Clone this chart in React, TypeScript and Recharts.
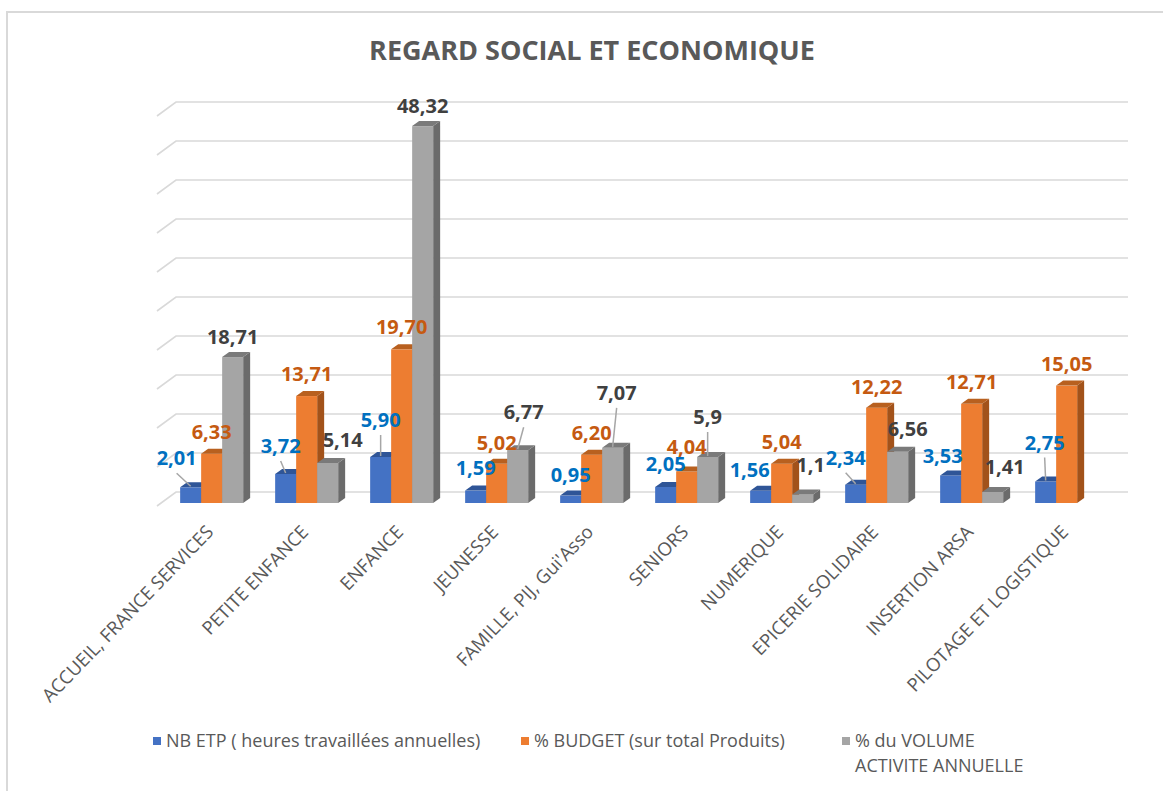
import React from "react";
import { Bar, BarChart, CartesianGrid, LabelList, Legend, XAxis, YAxis } from "recharts";

const categories = [
  "ACCUEIL, FRANCE SERVICES",
  "PETITE ENFANCE",
  "ENFANCE",
  "JEUNESSE",
  "FAMILLE, PIJ, Gui'Asso",
  "SENIORS",
  "NUMERIQUE",
  "EPICERIE SOLIDAIRE",
  "INSERTION ARSA",
  "PILOTAGE ET LOGISTIQUE",
];
const nbEtp = [2.01, 3.72, 5.9, 1.59, 0.95, 2.05, 1.56, 2.34, 3.53, 2.75];
const budget = [6.33, 13.71, 19.7, 5.02, 6.2, 4.04, 5.04, 12.22, 12.71, 15.05];
const volume = [18.71, 5.14, 48.32, 6.77, 7.07, 5.9, 1.1, 6.56, 1.41, null];
const yTicks = [0, 5, 10, 15, 20, 25, 30, 35, 40, 45, 50];
const seriesOrder = ["etp", "budget", "volume"];

const data = categories.map((category, i) => ({
  category,
  etp: nbEtp[i],
  budget: budget[i],
  volume: volume[i],
}));

// label nudges: [dx, dy, leader line] relative to top centre of the bar
const labelNudge: Record<string, number[][]> = {
  etp: [[-14, -29, 1], [-5, -28, 1], [0, -37, 1], [0, -23, 0], [0, -21, 0], [0, -23, 0], [-11, -21, 0], [-10, -27, 1], [-8, -19, 0], [-1, -39, 1]],
  budget: [[0, -22, 0], [0, -22, 0], [0, -22, 0], [0, -21, 0], [0, -22, 0], [0, -24, 0], [0, -22, 0], [0, -21, 0], [0, -22, 0], [0, -22, 0]],
  volume: [[0, -20, 0], [15, -23, 0], [0, -20, 0], [6, -38, 1], [4, -55, 1], [0, -40, 1], [8, -29, 0], [10, -23, 0], [12, -25, 0], [0, -20, 0]],
};

const DX = 7;
const DY = 5;
const FONT = "'Open Sans', 'DejaVu Sans', sans-serif";

const pts = (p: number[][]) => p.map((q) => q.join(",")).join(" ");

const bar3d = (front: string, top: string, side: string) => (props: any) => {
  const { x, y, width, height } = props;
  if (!height || height <= 0) return <g />;
  return (
    <g>
      <polygon
        points={pts([[x + width, y], [x + width + DX, y - DY], [x + width + DX, y + height - DY], [x + width, y + height]])}
        fill={side}
      />
      <rect x={x} y={y} width={width} height={height} fill={front} />
      <polygon points={pts([[x, y], [x + DX, y - DY], [x + width + DX, y - DY], [x + width, y]])} fill={top} />
    </g>
  );
};

const twoDec = (v: number) => v.toFixed(2).replace(".", ",");
const plain = (v: number) => String(v).replace(".", ",");

const makeLabel = (key: string, color: string, fmt: (v: number) => string) => (props: any) => {
  const vb = props.viewBox || {};
  const x = vb.x ?? props.x;
  const y = vb.y ?? props.y;
  const w = vb.width ?? props.width;
  const { value, index } = props;
  if (value == null) return null;
  const [dx, dy, leader] = labelNudge[key][index] || [0, -22, 0];
  const bx = x + w / 2;
  const cx = bx + dx;
  const cy = y + dy;
  return (
    <g>
      {leader ? <line x1={cx} y1={cy + 15} x2={bx} y2={y - 1} stroke="#A6A6A6" strokeWidth={1.5} /> : null}
      <text x={cx} y={cy} dy={7} textAnchor="middle" fontFamily={FONT} fontWeight={700} fontSize={20} fill={color}>
        {fmt(value)}
      </text>
    </g>
  );
};

const renderGridLine = (props: any) => {
  const { x1, x2, y1 } = props;
  return (
    <path
      key={props.key ?? `g-${y1}`}
      d={`M${x1 - 7},${y1 + 3} L${x1 + 12},${y1 - 11} L${x2 + 14},${y1 - 11}`}
      stroke="#D9D9D9"
      strokeWidth={1.6}
      fill="none"
    />
  );
};

const renderTick = (props: any) => {
  const { x, y, payload } = props;
  const tx = x + 3;
  const ty = y + 22;
  return (
    <text x={tx} y={ty} textAnchor="end" transform={`rotate(-46 ${tx} ${ty})`} fontFamily={FONT} fontSize={18.5} fill="#595959">
      {payload.value}
    </text>
  );
};

const legendWidths = [368, 321, 260];

const renderLegend = (props: any) => {
  const items = [...(props.payload || [])].sort(
    (a: any, b: any) => seriesOrder.indexOf(a.dataKey) - seriesOrder.indexOf(b.dataKey)
  );
  return (
    <div style={{ display: "flex", paddingLeft: 153, fontFamily: FONT, fontSize: 18, color: "#595959", lineHeight: "25px" }}>
      {items.map((e: any, i: number) => (
        <div key={i} style={{ display: "flex", alignItems: "flex-start", width: legendWidths[i], flex: "none" }}>
          <span style={{ width: 8, height: 8, background: e.color, marginTop: 9, marginRight: 5, flex: "none" }} />
          <span style={{ whiteSpace: "pre" }}>{e.value}</span>
        </div>
      ))}
    </div>
  );
};

export default function App() {
  return (
    <div style={{ position: "relative", width: 1163, height: 791, background: "#fff", overflow: "hidden" }}>
      <style>{"body{margin:0;overflow:hidden}"}</style>
      <div
        style={{
          position: "absolute",
          left: 6,
          top: 11,
          width: 1157,
          height: 780,
          borderLeft: "2px solid #D9D9D9",
          borderTop: "2px solid #D9D9D9",
        }}
      />
      <div
        style={{
          position: "absolute",
          left: 0,
          top: 31,
          width: 1184,
          textAlign: "center",
          fontFamily: FONT,
          fontWeight: 700,
          fontSize: 27,
          color: "#595959",
        }}
      >
        REGARD SOCIAL ET ECONOMIQUE
      </div>
      <BarChart
        width={1163}
        height={791}
        data={data}
        margin={{ top: 113, right: 49, left: 164, bottom: 258 }}
        barCategoryGap="17%"
        barGap={0}
      >
        <CartesianGrid vertical={false} horizontal={renderGridLine} />
        <XAxis dataKey="category" axisLine={false} tickLine={false} interval={0} height={30} tick={renderTick} />
        <YAxis hide domain={[0, 50]} ticks={yTicks} />
        <Bar
          dataKey="etp"
          name="NB ETP ( heures travaillées annuelles)"
          fill="#4472C4"
          legendType="square"
          shape={bar3d("#4472C4", "#2F5597", "#2F5597")}
          isAnimationActive={false}
        >
          <LabelList dataKey="etp" content={makeLabel("etp", "#0070C0", twoDec)} />
        </Bar>
        <Bar
          dataKey="budget"
          name="% BUDGET (sur total Produits)"
          fill="#ED7D31"
          legendType="square"
          shape={bar3d("#ED7D31", "#B8601F", "#A2521A")}
          isAnimationActive={false}
        >
          <LabelList dataKey="budget" content={makeLabel("budget", "#C55A11", twoDec)} />
        </Bar>
        <Bar
          dataKey="volume"
          name={"% du VOLUME\nACTIVITE ANNUELLE"}
          fill="#A5A5A5"
          legendType="square"
          shape={bar3d("#A5A5A5", "#7A7A7A", "#6B6B6B")}
          isAnimationActive={false}
        >
          <LabelList dataKey="volume" content={makeLabel("volume", "#404040", plain)} />
        </Bar>
        <Legend
          verticalAlign="middle"
          align="center"
          content={renderLegend}
          wrapperStyle={{ top: 728, left: 0, width: 1163, bottom: "auto" }}
        />
      </BarChart>
    </div>
  );
}
